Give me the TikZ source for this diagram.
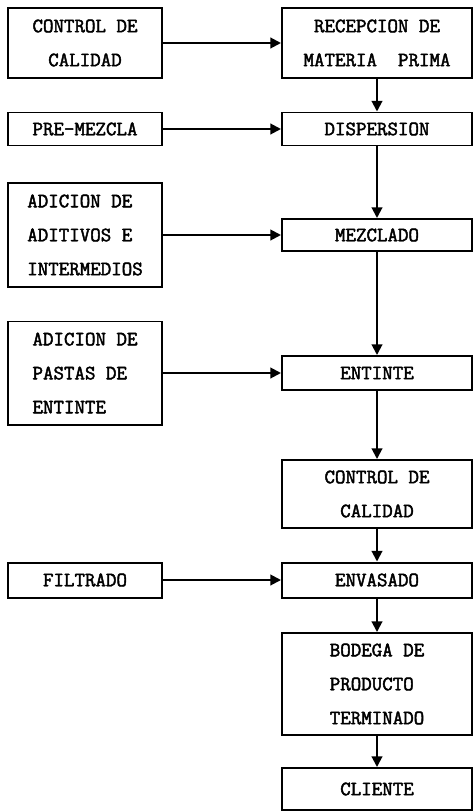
\documentclass[tikz,border=0pt]{standalone}
\usepackage{fontspec}
\setmonofont{Latin Modern Mono}[AutoFakeBold=2.2]
\usetikzlibrary{arrows.meta}

\begin{document}
\begin{tikzpicture}[->,>={Triangle[length=3.2mm,width=3.2mm]},x=0.03cm,y=-0.03cm,line width=1.7pt,
  box/.style={draw,rectangle,inner sep=0pt,align=center,
    font=\ttfamily\bfseries\fontsize{17.4pt}{29pt}\selectfont},
  lbox/.style={box,minimum width=4.62cm},
  rbox/.style={box,minimum width=5.7cm}]
			\useasboundingbox (0,0) rectangle (473,812);
			\node[lbox,minimum height=2.1cm]             (CC) at (85,43)  {CONTROL DE\\CALIDAD};
			\node[rbox,minimum height=2.1cm]             (R)  at (377,43) {RECEPCION DE\\MATERIA\ \ PRIMA};
			\node[lbox,minimum height=0.99cm]            (PM) at (85,129) {PRE-MEZCLA};
			\node[rbox,minimum height=0.99cm]            (D)  at (377,129) {DISPERSION};
			\node[lbox,minimum height=3.12cm,align=left] (AA) at (85,235) {ADICION DE\\ADITIVOS E\\INTERMEDIOS};
			\node[rbox,minimum height=0.96cm]            (M)  at (377,235) {MEZCLADO};
			\node[lbox,minimum height=3.09cm,align=left] (AP) at (85,373) {ADICION DE\\PASTAS DE\\ENTINTE};
			\node[rbox,minimum height=1.02cm]            (E)  at (377,373) {ENTINTE};
			\node[rbox,minimum height=2.04cm]            (CQ) at (377,494) {CONTROL DE\\CALIDAD};
			\node[lbox,minimum height=1.05cm]            (F)  at (85,580) {FILTRADO};
			\node[rbox,minimum height=1.05cm]            (V)  at (377,580) {ENVASADO};
			\node[rbox,minimum height=3.06cm,align=left] (B)  at (377,684) {BODEGA DE\\PRODUCTO\\TERMINADO};
			\node[rbox,minimum height=1.26cm]            (K)  at (377,789) {CLIENTE};
			\draw (CC) -- (R);
			\draw (PM) -- (D);
			\draw (AA) -- (M);
			\draw (AP) -- (E);
			\draw (F)  -- (V);
			\draw (R)  -- (D);
			\draw (D)  -- (M);
			\draw (M)  -- (E);
			\draw (E)  -- (CQ);
			\draw (CQ) -- (V);
			\draw (V)  -- (B);
			\draw (B)  -- (K);
		\end{tikzpicture}
\end{document}
